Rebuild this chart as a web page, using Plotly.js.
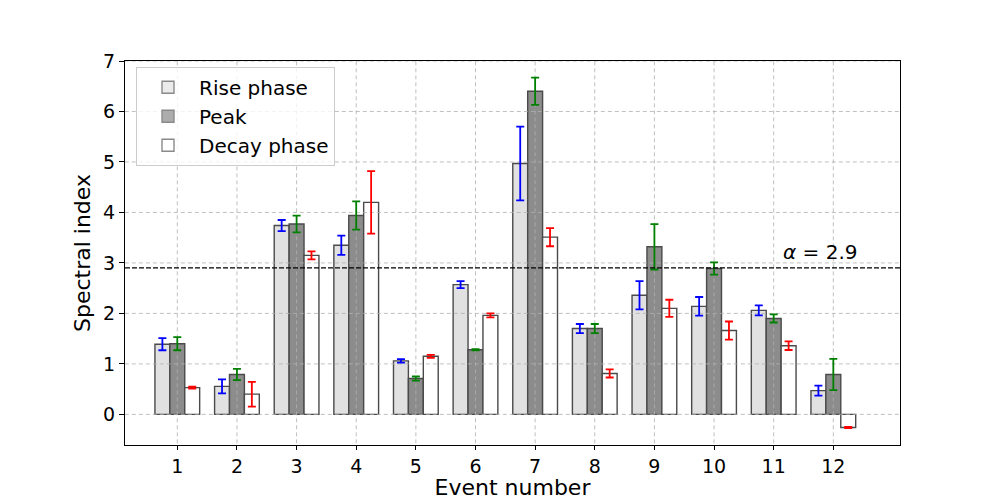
<!DOCTYPE html>
<html>
<head>
<meta charset="utf-8">
<script src="https://cdn.plot.ly/plotly-3.0.1.min.js"></script>
<style>html,body{margin:0;padding:0;background:#fff;}#chart{width:1000px;height:500px;}</style>
</head>
<body>
<div id="chart"></div>
<script>
// ---- data ----
const events = [1, 2, 3, 4, 5, 6, 7, 8, 9, 10, 11, 12];
const risePhase    = [1.39, 0.555, 3.74, 3.35, 1.06, 2.57, 4.97, 1.70, 2.36, 2.14, 2.06, 0.47];
const risePhaseErr = [0.12, 0.14, 0.11, 0.19, 0.035, 0.07, 0.73, 0.09, 0.28, 0.185, 0.10, 0.10];
const peakPhase    = [1.40, 0.79, 3.77, 3.94, 0.71, 1.28, 6.40, 1.70, 3.32, 2.89, 1.90, 0.79];
const peakPhaseErr = [0.13, 0.11, 0.165, 0.28, 0.04, 0.012, 0.27, 0.09, 0.45, 0.12, 0.08, 0.31];
const decayPhase   = [0.53, 0.40, 3.15, 4.20, 1.15, 1.96, 3.51, 0.81, 2.10, 1.66, 1.36, -0.26];
const decayPhaseErr= [0.02, 0.245, 0.08, 0.62, 0.03, 0.04, 0.18, 0.08, 0.17, 0.18, 0.085, 0.012];
const seriesNames = ['Rise phase', 'Peak', 'Decay phase'];
const alphaValue = 2.9;
const yTicks = [0, 1, 2, 3, 4, 5, 6, 7];

const FONT = 'DejaVu Sans, sans-serif';
const edge = '#4a4a4a';
const X_RANGE = [0.123, 13.118];
const Y_RANGE = [-0.607, 7.0];

// bars (no error bars) on the main subplot
function barTrace(name, y, fill, group) {
  return {
    type: 'bar', name: name, x: events, y: y, offsetgroup: group,
    showlegend: false, xaxis: 'x', yaxis: 'y',
    marker: {color: fill, line: {color: edge, width: 1.4}}
  };
}
// error bars only, drawn on an overlaid subplot so they sit above the grid
function errTrace(name, y, err, errColor, group) {
  return {
    type: 'bar', name: name, x: events, y: y, offsetgroup: group,
    showlegend: false, xaxis: 'x2', yaxis: 'y2',
    marker: {color: 'rgba(0,0,0,0)', line: {width: 0}},
    error_y: {type: 'data', array: err, visible: true, color: errColor, thickness: 1.8, width: 4}
  };
}
function legendTrace(name, fill, group) {
  return {
    type: 'bar', name: name, x: [null], y: [null], offsetgroup: group,
    marker: {color: fill, line: {color: '#8a8a8a', width: 1.4}}
  };
}

// grid lines drawn above the bars (as in the reference), built from the tick arrays
const gridStyle = {color: '#b0b0b0', width: 0.8, dash: '4px,3px'};
const gx = [], gy = [];
events.forEach(v => { gx.push(v, v, null); gy.push(-100, 100, null); });
const hx = [], hy = [];
yTicks.forEach(v => { hx.push(-100, 100, null); hy.push(v, v, null); });

const data = [
  barTrace(seriesNames[0], risePhase, '#e1e1e1', 'a'),
  barTrace(seriesNames[1], peakPhase, '#8c8c8c', 'b'),
  barTrace(seriesNames[2], decayPhase, '#ffffff', 'c'),
  {type: 'scatter', mode: 'lines', x: gx, y: gy, line: gridStyle, showlegend: false, hoverinfo: 'skip'},
  {type: 'scatter', mode: 'lines', x: hx, y: hy, line: gridStyle, showlegend: false, hoverinfo: 'skip'},
  legendTrace(seriesNames[0], '#ebebeb', 'a'),
  legendTrace(seriesNames[1], '#adadad', 'b'),
  legendTrace(seriesNames[2], '#ffffff', 'c'),
  errTrace(seriesNames[0], risePhase, risePhaseErr, '#0000ff', 'a'),
  errTrace(seriesNames[1], peakPhase, peakPhaseErr, '#008000', 'b'),
  errTrace(seriesNames[2], decayPhase, decayPhaseErr, '#ff0000', 'c')
];

const shapes = [{type: 'line', layer: 'above', xref: 'paper', yref: 'y', x0: 0, x1: 1, y0: alphaValue, y1: alphaValue,
             line: {color: '#000', width: 1.3, dash: '5px,2px'}}];

const layout = {
  width: 1000, height: 500,
  margin: {l: 125, r: 100, t: 61, b: 55},
  paper_bgcolor: '#fff', plot_bgcolor: '#fff',
  font: {family: FONT, size: 19, color: '#000'},
  barmode: 'group', bargap: 0.25, bargroupgap: 0,
  xaxis: {
    range: X_RANGE, tickvals: events, ticktext: events.map(String),
    showgrid: false, zeroline: false, showline: true, mirror: true, linecolor: '#000', linewidth: 1.2,
    ticks: 'outside', ticklen: 4, tickwidth: 1, tickcolor: '#000',
    tickfont: {family: FONT, size: 19}, automargin: false,
    title: {text: 'Event number', font: {family: FONT, size: 22}, standoff: 9}
  },
  yaxis: {
    range: Y_RANGE, tickvals: yTicks, ticktext: yTicks.map(String),
    showgrid: false, zeroline: false, showline: true, mirror: true, linecolor: '#000', linewidth: 1.2,
    ticks: 'outside', ticklen: 5, tickwidth: 1, tickcolor: '#000',
    tickfont: {family: FONT, size: 19}, automargin: false,
    title: {text: 'Spectral index', font: {family: FONT, size: 22}, standoff: 6}
  },
  xaxis2: {overlaying: 'x', range: X_RANGE, visible: false, showgrid: false, zeroline: false},
  yaxis2: {overlaying: 'y', range: Y_RANGE, visible: false, showgrid: false, zeroline: false},
  legend: {
    x: 0.0142, y: 0.985, xanchor: 'left', yanchor: 'top',
    bgcolor: 'rgba(255,255,255,0.8)', bordercolor: '#cccccc', borderwidth: 1,
    font: {family: FONT, size: 20}, itemwidth: 52, tracegroupgap: 0
  },
  shapes: shapes,
  annotations: [{
    xref: 'x', yref: 'y', x: 11.12, y: 2.93, xanchor: 'left', yanchor: 'bottom',
    text: '<i>α</i> = 2.9', showarrow: false, font: {family: FONT, size: 20, color: '#000'}
  }]
};

Plotly.newPlot('chart', data, layout, {displayModeBar: false, staticPlot: true});
</script>
</body>
</html>
